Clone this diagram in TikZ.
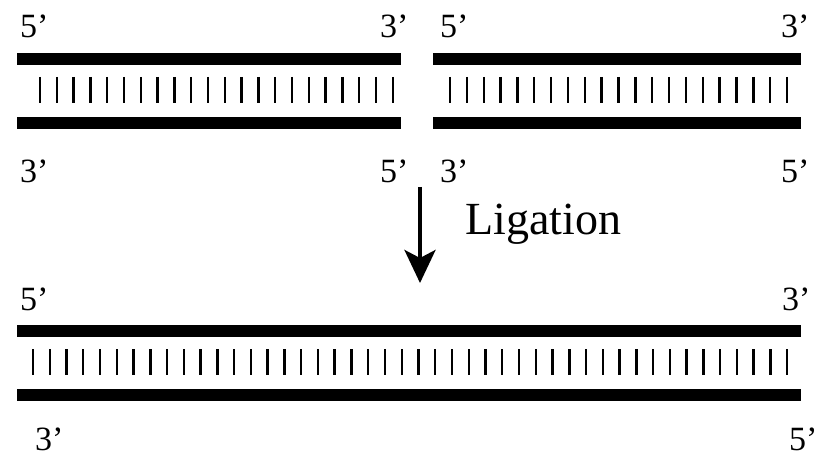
\documentclass[tikz,border=0pt]{standalone}
\usepackage{fontspec}
\setmainfont{Liberation Serif}
\usetikzlibrary{arrows.meta}
\begin{document}
\begin{tikzpicture}[x=1pt,y=-1pt,
  strand/.style={line width=12pt,line cap=butt},
  basepair/.style={line width=2.4pt,line cap=butt},
  endlabel/.style={anchor=base west,inner sep=0pt,font=\fontsize{34}{40}\selectfont},
  steplabel/.style={anchor=base west,inner sep=0pt,font=\fontsize{46}{54}\selectfont},
  bigarrow/.style={line width=4pt,-{Stealth[length=33pt,width=31pt,inset=8pt]}}]
\useasboundingbox (0,0) rectangle (836,457);
% top left duplex
\coordinate (tl1) at (17,59);   \coordinate (tl2) at (401,59);
\coordinate (bl1) at (17,123);  \coordinate (bl2) at (401,123);
\draw[strand] (tl1) -- (tl2);
\draw[strand] (bl1) -- (bl2);
\foreach \i in {0,...,21} \draw[basepair] ({40+\i*16.8},77) -- ({40+\i*16.8},103);
% top right duplex
\coordinate (tr1) at (433,59);  \coordinate (tr2) at (801,59);
\coordinate (br1) at (433,123); \coordinate (br2) at (801,123);
\draw[strand] (tr1) -- (tr2);
\draw[strand] (br1) -- (br2);
\foreach \i in {0,...,20} \draw[basepair] ({450+\i*16.85},77) -- ({450+\i*16.85},103);
% top labels
\node[endlabel] (a5) at (20,38) {5’};
\node[endlabel] (a3) at (380,38) {3’};
\node[endlabel] (b5) at (440,38) {5’};
\node[endlabel] (b3) at (781,38) {3’};
\node[endlabel] (c3) at (20,183) {3’};
\node[endlabel] (c5) at (380,183) {5’};
\node[endlabel] (d3) at (440,183) {3’};
\node[endlabel] (d5) at (781,183) {5’};
% arrow
\coordinate (arrowtop) at (420,187);
\coordinate (arrowtip) at (420,283);
\draw[bigarrow] (arrowtop) -- (arrowtip);
\node[steplabel] (lig) at (465,235) {Ligation};
% ligated duplex
\coordinate (lt1) at (17,331);  \coordinate (lt2) at (801,331);
\coordinate (lb1) at (17,395);  \coordinate (lb2) at (801,395);
\draw[strand] (lt1) -- (lt2);
\draw[strand] (lb1) -- (lb2);
\foreach \i in {0,...,45} \draw[basepair] ({33+\i*16.76},349) -- ({33+\i*16.76},375);
\node[endlabel] (e5) at (20,311) {5’};
\node[endlabel] (e3) at (782,311) {3’};
\node[endlabel] (f3) at (35,450) {3’};
\node[endlabel] (f5) at (789,450) {5’};
\end{tikzpicture}
\end{document}
